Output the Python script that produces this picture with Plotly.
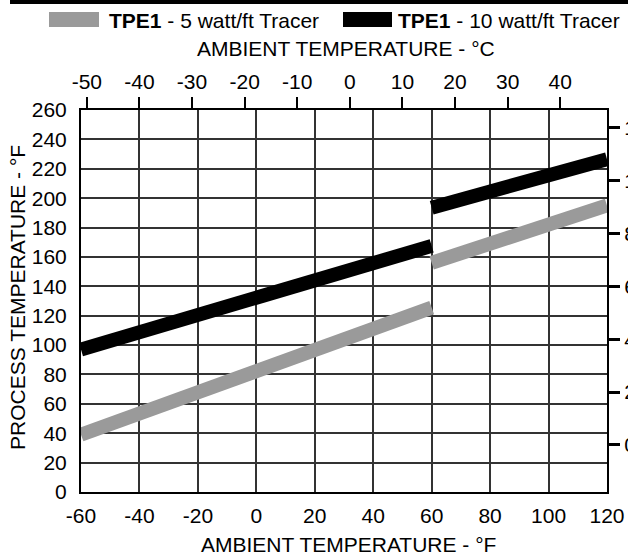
import plotly.graph_objects as go

# ambient temperature (F) vs maintained process temperature (F), two segments per tracer
ambient_f = [-60, 60, None, 60, 120]
tracer_5w = [39, 125.5, None, 156, 195]
tracer_10w = [97, 167.5, None, 193.5, 226.5]

x_ticks_f = list(range(-60, 121, 20))
y_ticks_f = list(range(0, 261, 20))
x_ticks_c = list(range(-50, 41, 10))
y_ticks_c = list(range(0, 121, 20))

x_range_f = [-60, 120]
y_range_f = [0, 260]


def f_to_c(v):
    return None if v is None else (v - 32) / 1.8


FONT = "Liberation Sans, Arial, sans-serif"
GRAY = "#9a9a9a"

fig = go.Figure()
fig.add_trace(go.Scatter(x=ambient_f, y=tracer_5w, mode="lines",
                         line=dict(color=GRAY, width=14),
                         name="TPE1 - 5 watt/ft Tracer", hoverinfo="skip"))
fig.add_trace(go.Scatter(x=ambient_f, y=tracer_10w, mode="lines",
                         line=dict(color="black", width=14),
                         name="TPE1 - 10 watt/ft Tracer", hoverinfo="skip"))
# invisible copy in Celsius so the top / right axes get drawn
fig.add_trace(go.Scatter(x=[f_to_c(v) for v in ambient_f], y=[f_to_c(v) for v in tracer_5w],
                         xaxis="x2", yaxis="y2", mode="lines",
                         line=dict(width=0), opacity=0, hoverinfo="skip", showlegend=False))

tick_font = dict(family=FONT, size=21, color="black")
fig.update_layout(
    width=628, height=557,
    margin=dict(l=81, r=21, t=110, b=65, pad=0, autoexpand=False),
    paper_bgcolor="white", plot_bgcolor="white",
    showlegend=False,
    font=dict(family=FONT, size=21, color="black"),
    xaxis=dict(range=x_range_f, tickvals=x_ticks_f, ticktext=[str(v) for v in x_ticks_f],
               showgrid=True, gridcolor="#333333", automargin=False,
               gridwidth=1.5, showline=True, linecolor="black", linewidth=2, mirror=True,
               ticks="", zeroline=False, tickfont=tick_font, ticklabelstandoff=4),
    yaxis=dict(range=y_range_f, tickvals=y_ticks_f, ticktext=[str(v) for v in y_ticks_f],
               showgrid=True, gridcolor="#333333", automargin=False,
               gridwidth=1.5, showline=True, linecolor="black", linewidth=2, mirror=True,
               ticks="", zeroline=False, tickfont=tick_font, ticklabelstandoff=8),
    xaxis2=dict(overlaying="x", side="top", range=[f_to_c(v) for v in x_range_f],
                tickvals=x_ticks_c, ticktext=[str(v) for v in x_ticks_c], automargin=False,
                ticks="outside", ticklen=12, tickwidth=1.5,
                tickcolor="black", showgrid=False, showline=False, zeroline=False,
                tickfont=tick_font, ticklabelstandoff=0),
    yaxis2=dict(overlaying="y", side="right", range=[f_to_c(v) for v in y_range_f],
                tickvals=y_ticks_c, ticktext=[str(v) for v in y_ticks_c], automargin=False,
                ticks="outside", ticklen=12, tickwidth=3,
                tickcolor="black", showgrid=False, showline=False, zeroline=False,
                tickfont=tick_font, ticklabelstandoff=0),
)

# legend swatches and top rule, placed in pixels from the plot's top-left corner
def px_rect(x0, x1, y0, y1, color):
    return dict(type="rect", xref="paper", yref="paper", xsizemode="pixel", ysizemode="pixel",
                xanchor=0, yanchor=1, x0=x0, x1=x1, y0=y0, y1=y1,
                fillcolor=color, line=dict(width=0))

fig.add_shape(type="line", xref="paper", yref="paper", xsizemode="pixel", ysizemode="pixel",
              xanchor=0, yanchor=1, x0=-71, x1=547, y0=108, y1=108,
              line=dict(color="black", width=4))
fig.add_shape(px_rect(-32, 18, 83, 98, GRAY))
fig.add_shape(px_rect(262, 311, 83, 98, "black"))

fig.add_annotation(x=0, y=1, xref="paper", yref="paper", xanchor="left", yanchor="middle",
                   xshift=26, yshift=90, showarrow=False,
                   text="<b>TPE1</b> - 5 watt/ft Tracer")
fig.add_annotation(x=0, y=1, xref="paper", yref="paper", xanchor="left", yanchor="middle",
                   xshift=315, yshift=90, showarrow=False,
                   text="<b>TPE1</b> - 10 watt/ft Tracer")
fig.add_annotation(x=0.5, y=1, xref="paper", yref="paper", xanchor="center", yanchor="middle",
                   xshift=1.5, yshift=62, showarrow=False,
                   text="AMBIENT TEMPERATURE - °C")
fig.add_annotation(x=0.5, y=0, xref="paper", yref="paper", xanchor="center", yanchor="middle",
                   xshift=4.5, yshift=-52, showarrow=False,
                   text="AMBIENT TEMPERATURE - °F")
fig.add_annotation(x=0, y=0.5, xref="paper", yref="paper", xanchor="center", yanchor="middle",
                   xshift=-64, yshift=3, showarrow=False, textangle=-90,
                   text="PROCESS TEMPERATURE - °F")

# page body has a default 8px margin; drop it so the figure fills the window
fig.write_html("out.html", config={"displayModeBar": False},
               post_script="document.body.style.margin='0';")
